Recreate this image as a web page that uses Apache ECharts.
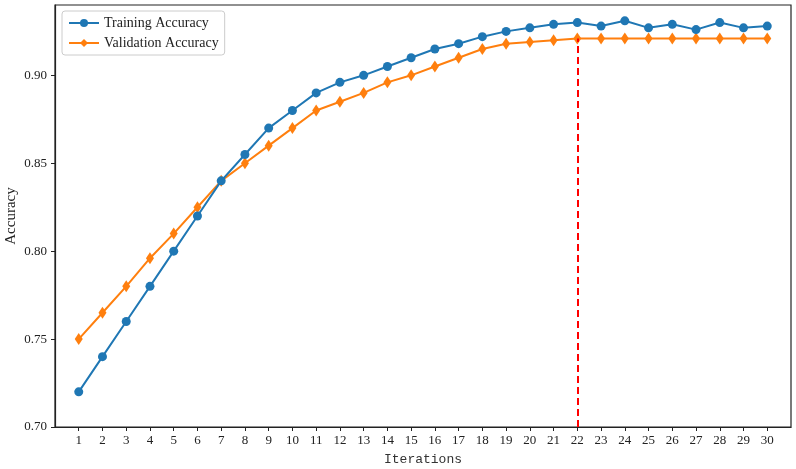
<!DOCTYPE html>
<html>
<head>
<meta charset="utf-8">
<script src="https://cdn.jsdelivr.net/npm/echarts@6/dist/echarts.min.js"></script>
<style>
  html, body { margin: 0; padding: 0; background: #fff; }
  #main { width: 796px; height: 469px; }
</style>
</head>
<body>
<div id="main"></div>
<script>
// 迭代次数
const iterations = [1, 2, 3, 4, 5, 6, 7, 8, 9, 10, 11, 12, 13, 14, 15, 16, 17, 18, 19, 20, 21, 22, 23, 24, 25, 26, 27, 28, 29, 30];
const trainAcc = [0.720, 0.740, 0.760, 0.780, 0.800, 0.820, 0.840, 0.855, 0.870, 0.880,
                  0.890, 0.896, 0.900, 0.905, 0.910, 0.915, 0.918, 0.922, 0.925, 0.927,
                  0.929, 0.930, 0.928, 0.931, 0.927, 0.929, 0.926, 0.930, 0.927, 0.928];
const valAcc = [0.750, 0.765, 0.780, 0.796, 0.810, 0.825, 0.840, 0.850, 0.860, 0.870,
                0.880, 0.885, 0.890, 0.896, 0.900, 0.905, 0.910, 0.915, 0.918, 0.919,
                0.920, 0.921, 0.921, 0.921, 0.921, 0.921, 0.921, 0.921, 0.921, 0.921];
const yTicks = [0.70, 0.75, 0.80, 0.85, 0.90];
const bestIter = 22;

const chart = echarts.init(document.getElementById('main'));
const serif = '"Liberation Serif", "Times New Roman", serif';

const option = {
  animation: false,
  grid: {
    left: 55, right: 5, top: 5, bottom: 42,
    outerBoundsMode: 'none',
    containLabel: false,
    show: true, borderColor: '#222', borderWidth: 1.2
  },
  legend: {
    left: 62, top: 11,
    orient: 'vertical',
    itemWidth: 30, itemHeight: 10, itemGap: 6,
    backgroundColor: '#fff',
    borderColor: '#ccc', borderWidth: 1, borderRadius: 3,
    padding: [5, 6, 5, 6],
    textStyle: { fontFamily: serif, fontSize: 14, color: '#222' },
    data: ['Training Accuracy', 'Validation Accuracy']
  },
  xAxis: {
    type: 'value',
    min: 0, max: 31, interval: 1,
    name: 'Iterations',
    nameLocation: 'middle',
    nameGap: 26,
    nameTextStyle: { fontFamily: '"Liberation Mono", monospace', fontSize: 13, color: '#333' },
    axisLine: { show: true, onZero: false, lineStyle: { color: '#222', width: 1.2 } },
    axisTick: { show: true, customValues: iterations, length: 4, lineStyle: { color: '#222' } },
    axisLabel: { customValues: iterations, fontFamily: serif, fontSize: 13, color: '#222', margin: 7 },
    splitLine: { show: false }
  },
  yAxis: {
    type: 'value',
    min: 0.70, max: 0.94,
    name: 'Accuracy',
    nameLocation: 'middle',
    nameGap: 36,
    nameMoveOverlap: false,
    nameTextStyle: { fontFamily: serif, fontSize: 15, color: '#222' },
    axisLine: { show: true, lineStyle: { color: '#222', width: 1.2 } },
    axisTick: { show: true, customValues: yTicks, length: 4, lineStyle: { color: '#222' } },
    axisLabel: {
      customValues: yTicks, fontFamily: serif, fontSize: 13, color: '#222', margin: 8,
      formatter: v => v.toFixed(2)
    },
    splitLine: { show: false }
  },
  series: [
    {
      name: 'Training Accuracy',
      type: 'line',
      data: iterations.map((x, i) => [x, trainAcc[i]]),
      symbol: 'circle', symbolSize: 9,
      color: '#1f77b4',
      lineStyle: { width: 2 },
      z: 3
    },
    {
      name: 'Validation Accuracy',
      type: 'line',
      data: iterations.map((x, i) => [x, valAcc[i]]),
      symbol: 'diamond', symbolSize: [8, 12],
      color: '#ff7f0e',
      lineStyle: { width: 2 },
      z: 2,
      markLine: {
        silent: true,
        symbol: ['none', 'none'],
        label: { show: false },
        lineStyle: { color: '#ff0000', type: [7, 4], width: 2 },
        data: [[
          { coord: [bestIter, 0.70] },
          { coord: [bestIter, valAcc[iterations.indexOf(bestIter)]] }
        ]]
      }
    }
  ]
};
chart.setOption(option);
</script>
</body>
</html>
